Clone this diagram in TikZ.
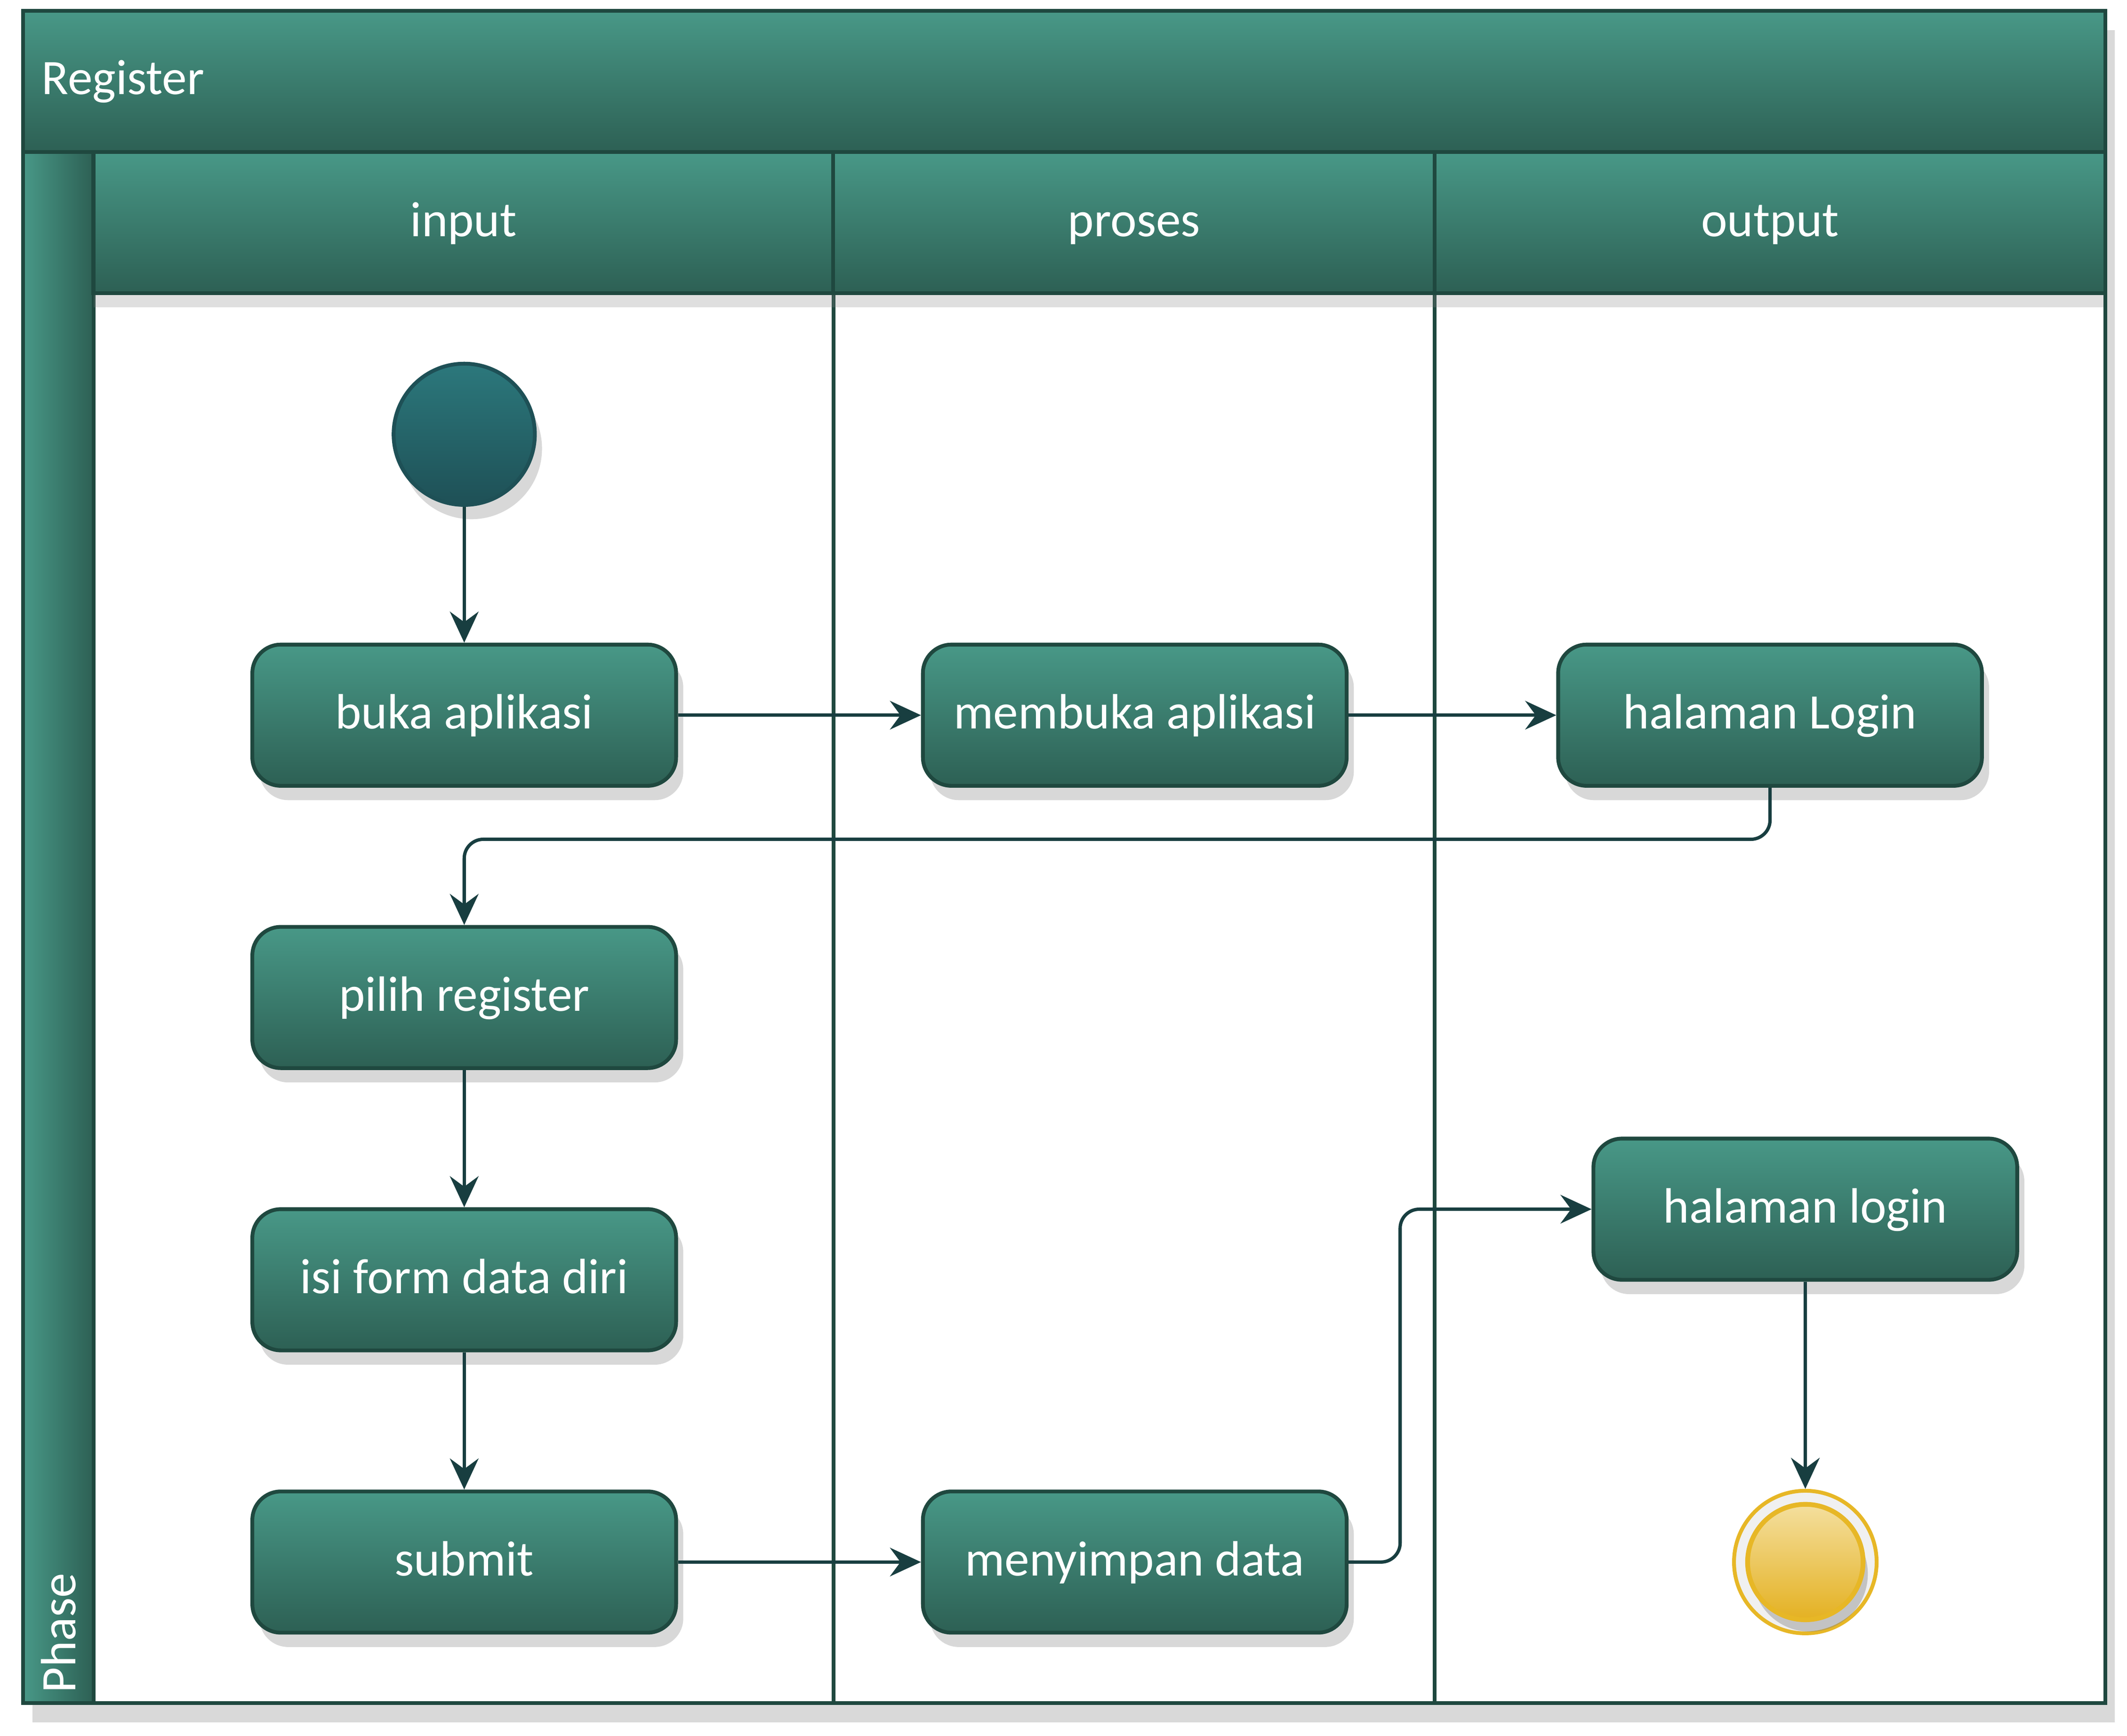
\documentclass[tikz,border=0pt]{standalone}
\usepackage{fontspec}
\setmainfont{Carlito}
\usetikzlibrary{arrows.meta,shadows}
\definecolor{tealtop}{RGB}{72,152,135}
\definecolor{tealbot}{RGB}{45,96,84}
\definecolor{tealline}{RGB}{31,72,63}
\definecolor{arrowcol}{RGB}{24,62,64}
\definecolor{starttop}{RGB}{44,120,124}
\definecolor{startbot}{RGB}{30,80,86}
\definecolor{endring}{RGB}{231,183,38}
\definecolor{endtop}{RGB}{244,223,158}
\definecolor{endbot}{RGB}{228,177,34}
\newcommand{\lbl}{\fontsize{10.4}{12}\selectfont}
\tikzset{
	activity/.style={rectangle, rounded corners=0.21cm, draw=tealline, line width=0.8pt,
		top color=tealtop, bottom color=tealbot, text=white, font=\lbl,
		minimum width=3.12cm, minimum height=1.04cm, inner sep=0pt,
		text height=1.6ex, text depth=0.4ex,
		drop shadow={shadow xshift=1.5pt, shadow yshift=-3pt, opacity=0.3}},
	lanehead/.style={rectangle, draw=tealline, line width=0.8pt,
		top color=tealtop, bottom color=tealbot, text=white, font=\lbl,
		minimum height=1.04cm, inner sep=0pt,
		text height=1.6ex, text depth=0.4ex,
		drop shadow={shadow xshift=0pt, shadow yshift=-3pt, opacity=0.25}},
	flow/.style={draw=arrowcol, line width=0.7pt, -{Stealth[length=6.5pt,width=6pt,inset=2.2pt]}},
}
\begin{document}
\begin{tikzpicture}[x=0.01cm, y=-0.01cm]
	\useasboundingbox (0,0) rectangle (1567,1279);
	% pool
	\fill[white, drop shadow={shadow xshift=2pt, shadow yshift=-4pt, opacity=0.3}] (17,8) rectangle (1551,1255);
	\shade[top color=tealtop, bottom color=tealbot, draw=tealline, line width=0.8pt] (17,8) rectangle (1551,112);
	\shade[left color=tealtop, right color=tealbot, draw=tealline, line width=0.8pt] (17,112) rectangle (69,1255);
	\node[anchor=west, text=white, font=\lbl, inner sep=0pt] at (30,60) (pooltitle) {Register};
	\node[anchor=west, rotate=90, text=white, font=\lbl, inner sep=0pt] at (43,1248) (phase) {Phase};
	
	% lanes
	\draw[tealline, line width=0.8pt] (614,112) -- (614,1255);
	\draw[tealline, line width=0.8pt] (1057,112) -- (1057,1255);
	\node[lanehead, minimum width=5.45cm] at (341.5,164) (inputhd) {input};
	\node[lanehead, minimum width=4.43cm] at (835.5,164) (proseshd) {proses};
	\node[lanehead, minimum width=4.94cm] at (1304,164) (outputhd) {output};
	\draw[tealline, line width=0.8pt] (17,8) rectangle (1551,1255);
	
	% activities
	\node[circle, draw=startbot, line width=0.8pt, top color=starttop, bottom color=startbot,
		minimum size=1.04cm, inner sep=0pt,
		drop shadow={shadow xshift=1.5pt, shadow yshift=-3pt, opacity=0.3}] at (342,320) (start) {};
	\node[activity] at (342,527) (buka) {buka aplikasi};
	\node[activity] at (836,527) (membuka) {membuka aplikasi};
	\node[activity] at (1304,527) (loginA) {halaman Login};
	\node[activity] at (342,735) (pilih) {pilih register};
	\node[activity] at (342,943) (isiform) {isi form data diri};
	\node[activity] at (342,1151) (submit) {submit};
	\node[activity] at (836,1151) (simpan) {menyimpan data};
	\node[activity] at (1330,891) (loginB) {halaman login};
	\node[circle, draw=endring, line width=0.8pt, fill=gray!12,
		minimum size=1.05cm, inner sep=0pt] at (1330,1151) (stop) {};
	\node[circle, draw=endring, line width=1pt, top color=endtop, bottom color=endbot,
		minimum size=0.85cm, inner sep=0pt,
		drop shadow={shadow xshift=1pt, shadow yshift=-2.5pt, opacity=0.4}] at (stop) (stopcore) {};
	
	
	\draw [flow] (start) -- (buka);
	\draw [flow] (buka) -- (membuka);
	\draw [flow] (membuka) -- (loginA);
	\draw [flow, rounded corners=4pt] (loginA.south) -- ++(0,38) -| (pilih.north);
	\draw [flow] (pilih) -- (isiform);
	\draw [flow] (isiform) -- (submit);
	\draw [flow] (submit) -- (simpan);
	\draw [flow, rounded corners=4pt] (simpan.east) -- ++(38,0) |- (loginB.west);
	\draw [flow] (loginB) -- (stop);
	
\end{tikzpicture}
\end{document}
